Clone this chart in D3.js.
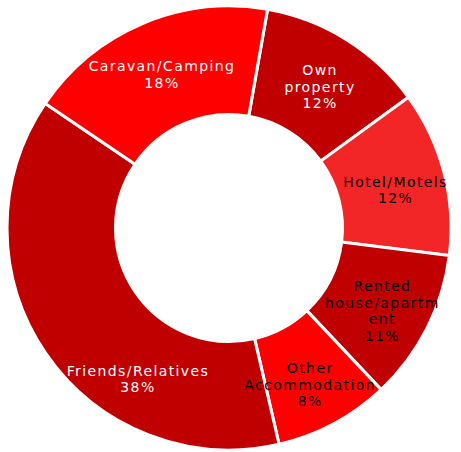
<!DOCTYPE html>
<meta charset="utf-8">
<style>
  body { margin: 0; background: #fff; }
  .lbl { font-family: "DejaVu Sans", sans-serif; font-size: 14px; letter-spacing: 1.4px; }
</style>
<svg width="461" height="452"></svg>
<script src="https://d3js.org/d3.v7.min.js"></script>
<script>
  // accommodation shares, clockwise from the top
  var categories = ["Own property", "Hotel/Motels", "Rented house/apartment", "Other Accommodation", "Friends/Relatives", "Caravan/Camping"];
  var values = [12.2, 12.0, 11.0, 8.4, 38.1, 18.3];
  var labelLines = [["Own", "property"], ["Hotel/Motels"], ["Rented", "house/apartm", "ent"], ["Other", "Accommodation"], ["Friends/Relatives"], ["Caravan/Camping"]];
  var colors = ["#c00000", "#f22626", "#c00000", "#ff0000", "#c00000", "#ff0000"];
  var textColors = ["#fff", "#000", "#000", "#000", "#fff", "#fff"];

  var svg = d3.select("svg"),
    cx = 229, cy = 228,
    outer = 222, inner = 113.5,
    labelR = 172;

  var data = categories.map(function(c, i) {
    return { name: c, value: values[i], i: i };
  });

  var pie = d3.pie()
    .sort(null)
    .value(function(d) { return d.value; })
    .startAngle(10 * Math.PI / 180)
    .endAngle(370 * Math.PI / 180);

  var arc = d3.arc().innerRadius(inner).outerRadius(outer);

  var g = svg.append("g").attr("transform", "translate(" + cx + "," + cy + ")");

  var arcs = pie(data);

  g.selectAll("path")
    .data(arcs)
    .enter().append("path")
    .attr("d", arc)
    .attr("fill", function(d) { return colors[d.data.i]; })
    .attr("stroke", "#fff")
    .attr("stroke-width", 3);

  // label sits mid-slice, but never more than 45deg past the slice start
  function labelPos(d) {
    var a = d.startAngle + Math.min((d.endAngle - d.startAngle) / 2, Math.PI / 4);
    return [labelR * Math.sin(a), -labelR * Math.cos(a) + 5];
  }

  var lineH = 16.5;
  var labels = g.selectAll(".lbl")
    .data(arcs)
    .enter().append("text")
    .attr("class", "lbl")
    .attr("text-anchor", "middle")
    .attr("fill", function(d) { return textColors[d.data.i]; })
    .attr("transform", function(d) { return "translate(" + labelPos(d) + ")"; });

  labels.each(function(d) {
    var lines = labelLines[d.data.i].concat([Math.round(d.data.value) + "%"]);
    var t = d3.select(this);
    var y0 = -(lines.length - 1) * lineH / 2;
    lines.forEach(function(l, k) {
      t.append("tspan")
        .attr("x", 0)
        .attr("y", y0 + k * lineH)
        .attr("dy", "0.35em")
        .text(l);
    });
  });
</script>
